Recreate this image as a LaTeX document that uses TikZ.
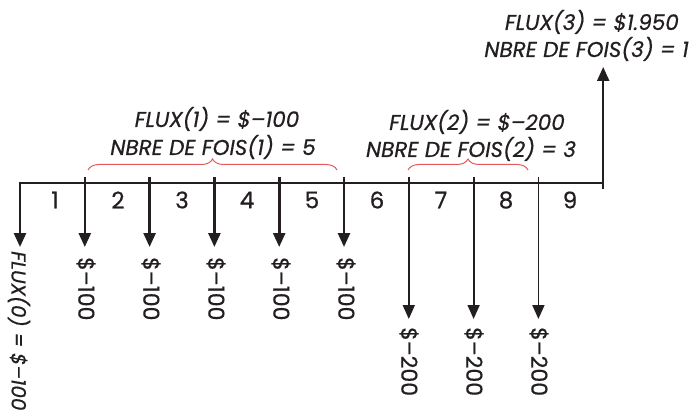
\documentclass[tikz,border=0pt]{standalone}
\usepackage{fontspec}
\setmainfont{Poppins}[FakeBold=0.6]
\usetikzlibrary{arrows.meta,decorations.pathreplacing}
\definecolor{ink}{HTML}{231F20}
\definecolor{bracered}{HTML}{E5595C}
\tikzset{
  x=1pt,y=-1pt,
  axisline/.style={draw=ink,line width=1.3pt},
  flowbig/.style={draw=ink,line width=2.6pt,-{Triangle[width=12pt,length=14pt]}},
  flowsmall/.style={draw=ink,line width=1.8pt,-{Triangle[width=12pt,length=14pt]}},
  amt/.style={rotate=-90,anchor=west,inner sep=0pt,text=ink,font=\fontsize{22}{26}\selectfont},
  period/.style={inner sep=0pt,text=ink,font=\fontsize{23}{26}\selectfont},
  lbl/.style={inner sep=0pt,text=ink,anchor=base,font=\fontsize{21.5}{24}\selectfont\itshape},
  bracedeco/.style={draw=bracered,line width=1pt,decorate,decoration={brace,amplitude=11pt}}
}
\begin{document}
\begin{tikzpicture}
\useasboundingbox (0,0) rectangle (690,414);
% time axis
\coordinate (t0) at (20,183);
\coordinate (t9) at (603,183);
\draw[axisline] (t0) -- (t9);
% flows
\coordinate (a0s) at (20,182); \coordinate (a0e) at (20,247);
\coordinate (a1s) at (84.8,177); \coordinate (a1e) at (84.8,247);
\coordinate (a2s) at (149.6,177); \coordinate (a2e) at (149.6,247);
\coordinate (a3s) at (214.4,177); \coordinate (a3e) at (214.4,247);
\coordinate (a4s) at (279.2,177); \coordinate (a4e) at (279.2,247);
\coordinate (a5s) at (344,177); \coordinate (a5e) at (344,247);
\coordinate (a6s) at (408.8,177); \coordinate (a6e) at (408.8,319);
\coordinate (a7s) at (473.6,177); \coordinate (a7e) at (473.6,319);
\coordinate (a8s) at (538.4,177); \coordinate (a8e) at (538.4,319);
\coordinate (a9s) at (603.2,189); \coordinate (a9e) at (603.2,67);
\foreach \i in {0,...,5} {\draw[flowbig] (a\i s) -- (a\i e);}
\foreach \i in {6,7,8} {\draw[flowsmall] (a\i s) -- (a\i e);}
\draw[flowbig,line width=2.2pt] (a9s) -- (a9e);
% period numbers
\node[period] (p1) at (55,200) {1};
\node[period] (p2) at (118,200) {2};
\node[period] (p3) at (182,200) {3};
\node[period] (p4) at (247,200) {4};
\node[period] (p5) at (312,200) {5};
\node[period] (p6) at (377,200) {6};
\node[period] (p7) at (441,200) {7};
\node[period] (p8) at (506,200) {8};
\node[period] (p9) at (570,200) {9};
% amounts
\node[amt,font=\fontsize{20}{24}\selectfont\itshape] (v0) at (19,251) {FLUX(0) = \$–100};
\node[amt] (v1) at (86,257) {\$–100};
\node[amt] (v2) at (151,257) {\$–100};
\node[amt] (v3) at (216,257) {\$–100};
\node[amt] (v4) at (281,257) {\$–100};
\node[amt] (v5) at (346,257) {\$–100};
\node[amt] (v6) at (409,327) {\$–200};
\node[amt] (v7) at (474,327) {\$–200};
\node[amt] (v8) at (539,327) {\$–200};
% braces
\coordinate (b1s) at (88,170); \coordinate (b1e) at (337,170);
\coordinate (b2s) at (408,170); \coordinate (b2e) at (528,170);
\draw[bracedeco] (b1s) -- (b1e);
\draw[bracedeco] (b2s) -- (b2e);
% group labels
\node[lbl] (g1a) at (217,127) {FLUX(1) = \$–100};
\node[lbl] (g1b) at (213,155) {NBRE DE FOIS(1) = 5};
\node[lbl] (g2a) at (477,130) {FLUX(2) = \$–200};
\node[lbl] (g2b) at (471,157) {NBRE DE FOIS(2) = 3};
\node[lbl,anchor=base east] (g3a) at (679,30) {FLUX(3) = \$1.950};
\node[lbl,anchor=base east] (g3b) at (689,57) {NBRE DE FOIS(3) = 1};
\end{tikzpicture}
\end{document}
